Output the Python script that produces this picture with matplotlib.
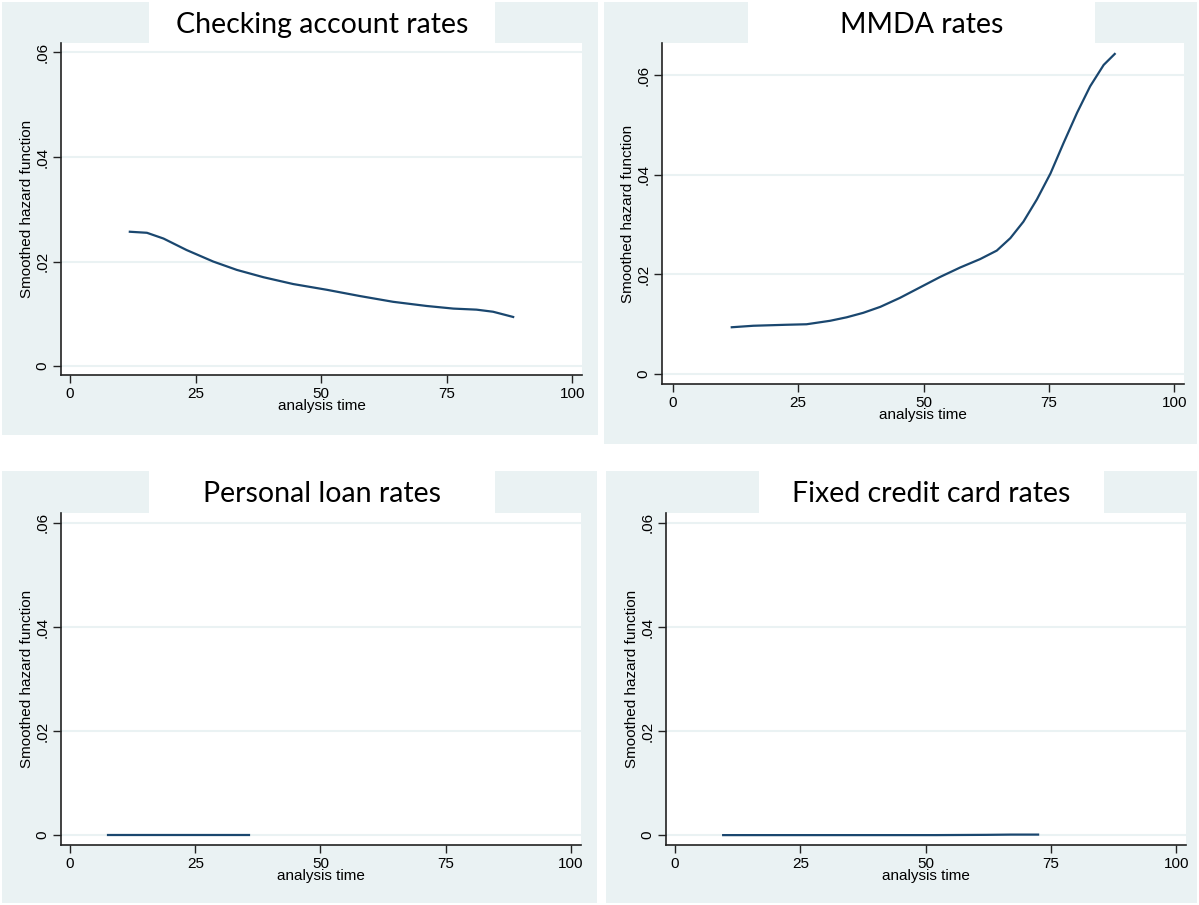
import matplotlib
matplotlib.use("Agg")
import matplotlib.pyplot as plt
from matplotlib.patches import Rectangle

W, H = 1199, 905

# data
titles = ["Checking account rates", "MMDA rates", "Personal loan rates", "Fixed credit card rates"]

checking_t = [11.9, 15.3, 18.6, 23.2, 28.5, 33.2, 38.5, 44.4, 51.1, 57.7, 64.3, 71.0, 76.3, 80.9, 84.2, 88.2]
checking_h = [0.0257, 0.0255, 0.0244, 0.0222, 0.0200, 0.0184, 0.0170, 0.0157, 0.0146, 0.0134,
              0.0123, 0.0115, 0.0110, 0.0108, 0.0104, 0.0094]

mmda_t = [11.8, 16.1, 22.7, 26.7, 31.4, 34.7, 38.0, 41.4, 45.3, 49.3, 53.3, 57.3, 61.3, 64.6,
          67.3, 69.9, 72.6, 75.3, 77.9, 80.6, 83.2, 85.9, 88.1]
mmda_h = [0.0094, 0.0097, 0.0099, 0.0100, 0.0107, 0.0114, 0.0123, 0.0135, 0.0153, 0.0174, 0.0195,
          0.0214, 0.0231, 0.0248, 0.0273, 0.0306, 0.0351, 0.0403, 0.0464, 0.0525, 0.0578, 0.0621, 0.0643]

loan_t = [7.6, 20.0, 35.7]
loan_h = [0.0, 0.0, 0.0]

card_t = [9.6, 30.0, 52.0, 62.0, 67.0, 72.4]
card_h = [0.0, 0.0, 0.0, 0.00005, 0.0001, 0.0001]

series = [(checking_t, checking_h), (mmda_t, mmda_h), (loan_t, loan_h), (card_t, card_h)]

yticks = [0, 0.02, 0.04, 0.06]
ytick_labels = ["0", ".02", ".04", ".06"]
xticks = [0, 25, 50, 75, 100]

# layout in pixels: panel box, title box, axes box, x limits, y limits
panels = [
    dict(box=(2, 2, 598, 435), tbox=(149, 2, 495, 43), ax=(61, 43, 582, 375),
         xlim=(-1.8, 101.9), ylim=(-0.0017, 0.0618)),
    dict(box=(604, 2, 1197, 444), tbox=(748, 2, 1095, 44), ax=(662, 43, 1184, 384),
         xlim=(-2.1, 101.9), ylim=(-0.0020, 0.0665)),
    dict(box=(2, 471, 597, 903), tbox=(149, 471, 495, 513), ax=(61, 513, 581, 845),
         xlim=(-1.8, 102.0), ylim=(-0.0019, 0.0619)),
    dict(box=(606, 471, 1197, 903), tbox=(759, 471, 1104, 513), ax=(666, 513, 1186, 845),
         xlim=(-1.8, 101.9), ylim=(-0.0019, 0.0619)),
]

bg = "#eaf2f3"
navy = "#1a476f"

fig = plt.figure(figsize=(W / 100, H / 100), dpi=100)
fig.patch.set_facecolor("white")


def frac(b):
    x0, y0, x1, y1 = b
    return [x0 / W, 1 - y1 / H, (x1 - x0) / W, (y1 - y0) / H]


for p, title, (t, h) in zip(panels, titles, series):
    x0, y0, x1, y1 = p["box"]
    fig.patches.append(Rectangle((x0 / W, 1 - y1 / H), (x1 - x0) / W, (y1 - y0) / H,
                                 transform=fig.transFigure, facecolor=bg, edgecolor="none", zorder=-10))
    tx0, ty0, tx1, ty1 = p["tbox"]
    fig.patches.append(Rectangle((tx0 / W, 1 - ty1 / H), (tx1 - tx0) / W, (ty1 - ty0) / H,
                                 transform=fig.transFigure, facecolor="white", edgecolor="none", zorder=-9))
    fig.text((tx0 + tx1) / 2 / W, 1 - ((ty0 + ty1) / 2 + 2) / H, title, ha="center", va="center",
             fontsize=20.5, family="Lato", color="black")

    ax = fig.add_axes(frac(p["ax"]))
    ax.set_facecolor("white")
    ax.plot(t, h, color=navy, lw=1.6, solid_joinstyle="round")
    ax.set_xlim(*p["xlim"])
    ax.set_ylim(*p["ylim"])
    ax.set_xticks(xticks)
    ax.set_yticks(yticks)
    ax.set_yticklabels(ytick_labels, rotation=90, va="center")
    for y in yticks:
        ax.axhline(y, color=bg, lw=1.5, zorder=0)
    for s in ["top", "right"]:
        ax.spines[s].set_visible(False)
    for s in ["left", "bottom"]:
        ax.spines[s].set_color("#222222")
        ax.spines[s].set_linewidth(1.2)
    ax.tick_params(direction="out", length=6, width=1.0, color="#222222",
                   labelsize=11, pad=2.5)
    for lab in ax.get_xticklabels() + ax.get_yticklabels():
        lab.set_family("Liberation Sans")
    ax.set_xlabel("analysis time", fontsize=11, family="Liberation Sans", labelpad=-1)
    ax.set_ylabel("Smoothed hazard function", fontsize=11, family="Liberation Sans", labelpad=1)

fig.savefig("out.png", dpi=100, facecolor="white")
